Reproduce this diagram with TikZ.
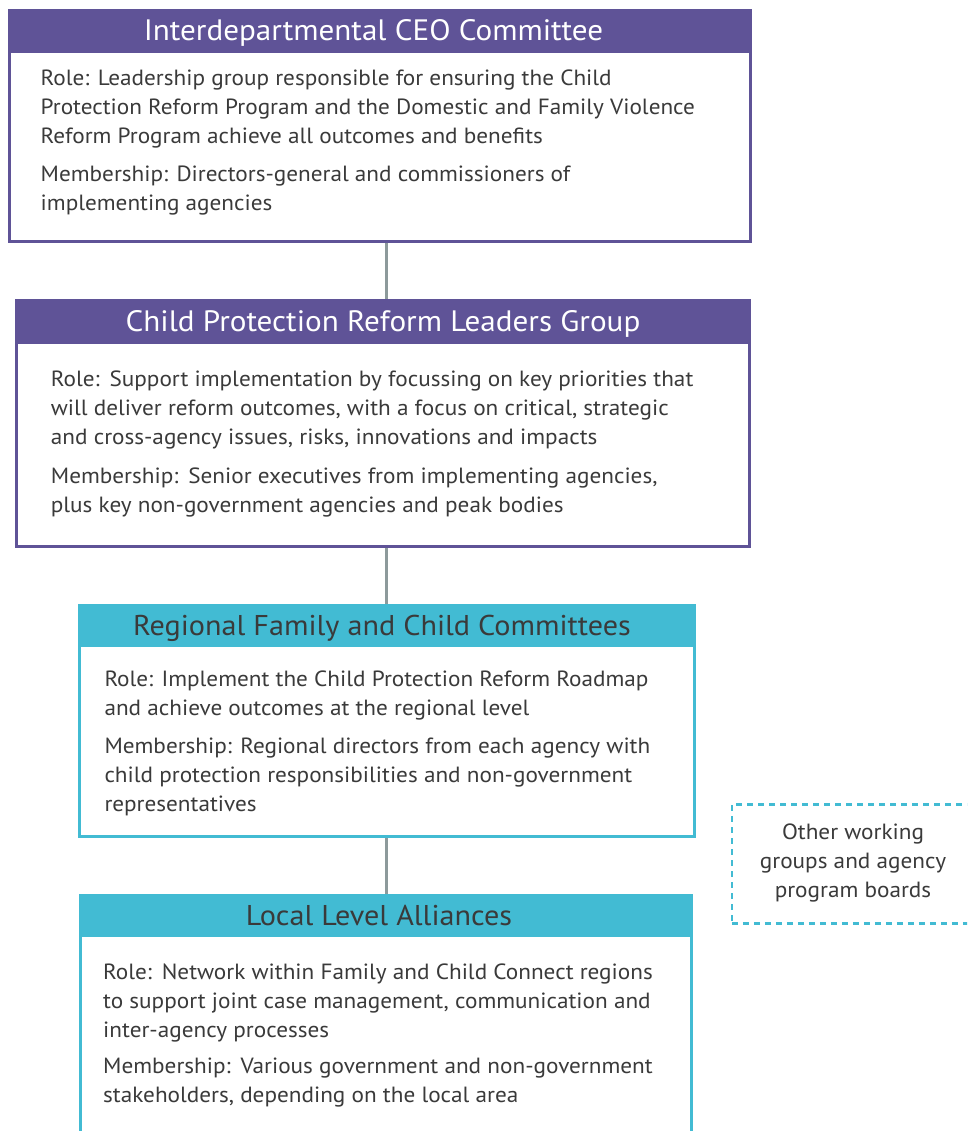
\documentclass[tikz,border=0pt]{standalone}
\usepackage{fontspec}
\setmainfont[FakeStretch=1.055]{PT Sans}
\definecolor{cpurple}{HTML}{5F5397}
\definecolor{cteal}{HTML}{42BBD3}
\definecolor{cgray}{HTML}{8D9A9B}
\definecolor{ctext}{HTML}{3A3A3A}
\begin{document}
\begin{tikzpicture}[x=1pt,y=-1pt,
  hdr/.style={anchor=north west, inner sep=0pt, outer sep=0pt, text height=20.6pt, text depth=0pt, font=\fontsize{29.5}{32}\selectfont},
  hdrsmall/.style={hdr, text height=20pt, font=\fontsize{28.6}{32}\selectfont},
  body/.style={anchor=north west, draw=#1, line width=2.7pt, inner sep=0pt, outer sep=0pt, fill=white},
  para/.style={anchor=base west, align=left, inner sep=0pt, text=ctext, font=\fontsize{22}{29}\selectfont},
  link/.style={draw=cgray, line width=2.7pt},
]
\useasboundingbox (0,0) rectangle (967,1131);
\clip (0,0) rectangle (967,1131);
\fill[white] (0,0) rectangle (967,1131);
\coordinate (spine) at (386.3,0);

% bodies
\node[body=cpurple, minimum width=741.3pt, minimum height=189.35pt] (b1) at (9.35,52) {};
\node[body=cpurple, minimum width=733.3pt, minimum height=203.65pt] (b2) at (16.35,343) {};
\node[body=cteal, minimum width=615.3pt, minimum height=190.35pt] (b3) at (79.35,646) {};
\node[body=cteal, minimum width=611.3pt, minimum height=230pt] (b4) at (80.35,936) {};

% headers
\node[hdr, fill=cpurple, text=white, minimum width=744pt, minimum height=43pt] (h1) at (8,9) {Interdepartmental CEO Committee\kern13pt};
\node[hdr, fill=cpurple, text=white, minimum width=736pt, minimum height=44pt] (h2) at (15,299) {Child Protection Reform Leaders Group};
\node[hdrsmall, fill=cteal, text=ctext, minimum width=618pt, minimum height=42pt] (h3) at (78,604) {Regional Family and Child Committees\kern10pt};
\node[hdrsmall, fill=cteal, text=ctext, minimum width=614pt, minimum height=42pt] (h4) at (79,894) {Local Level Alliances\kern14pt};

% connectors
\draw[link] (b1.south -| spine) ++(0,1.4) -- (h2.north -| spine);
\draw[link] (b2.south -| spine) ++(0,1.4) -- (h3.north -| spine);
\draw[link] (b3.south -| spine) ++(0,1.4) -- (h4.north -| spine);

% texts (anchored at the baseline of their last line)
\node[para] (r1) at (40.5,144) {Role: Leadership group responsible for ensuring the Child\\Protection Reform Program and the Domestic and Family Violence\\Reform Program achieve all outcomes and benefits};
\node[para] (m1) at (40.5,210.7) {Membership: Directors-general and commissioners of\\implementing agencies};
\node[para] (r2) at (50.7,444.7) {Role:\hspace{0.45em}Support implementation by focussing on key priorities that\\will deliver reform outcomes, with a focus on critical, strategic\\and cross-agency issues, risks, innovations and impacts};
\node[para] (m2) at (50.7,512) {Membership:\hspace{0.45em}Senior executives from implementing agencies,\\plus key non-government agencies and peak bodies};
\node[para] (r3) at (104.3,715.7) {Role: Implement the Child Protection Reform Roadmap\\and achieve outcomes at the regional level};
\node[para] (m3) at (104.3,811) {Membership: Regional directors from each agency with\\child protection responsibilities and non-government\\representatives};
\node[para] (r4) at (103,1037.3) {Role:\hspace{0.45em}Network within Family and Child Connect regions\\to support joint case management, communication and\\inter-agency processes};
\node[para] (m4) at (103,1102) {Membership:\hspace{0.45em}Various government and non-government\\stakeholders, depending on the local area};

% other groups
\node[anchor=north west, draw=cteal, line width=2.7pt, dash pattern=on 6pt off 5pt, inner sep=0pt, minimum width=270pt, minimum height=119pt] (other) at (730.5,803) {};
\node[para, anchor=base, align=center] (othertxt) at (853,897) {Other working\\groups and agency\\program boards};
\end{tikzpicture}
\end{document}
